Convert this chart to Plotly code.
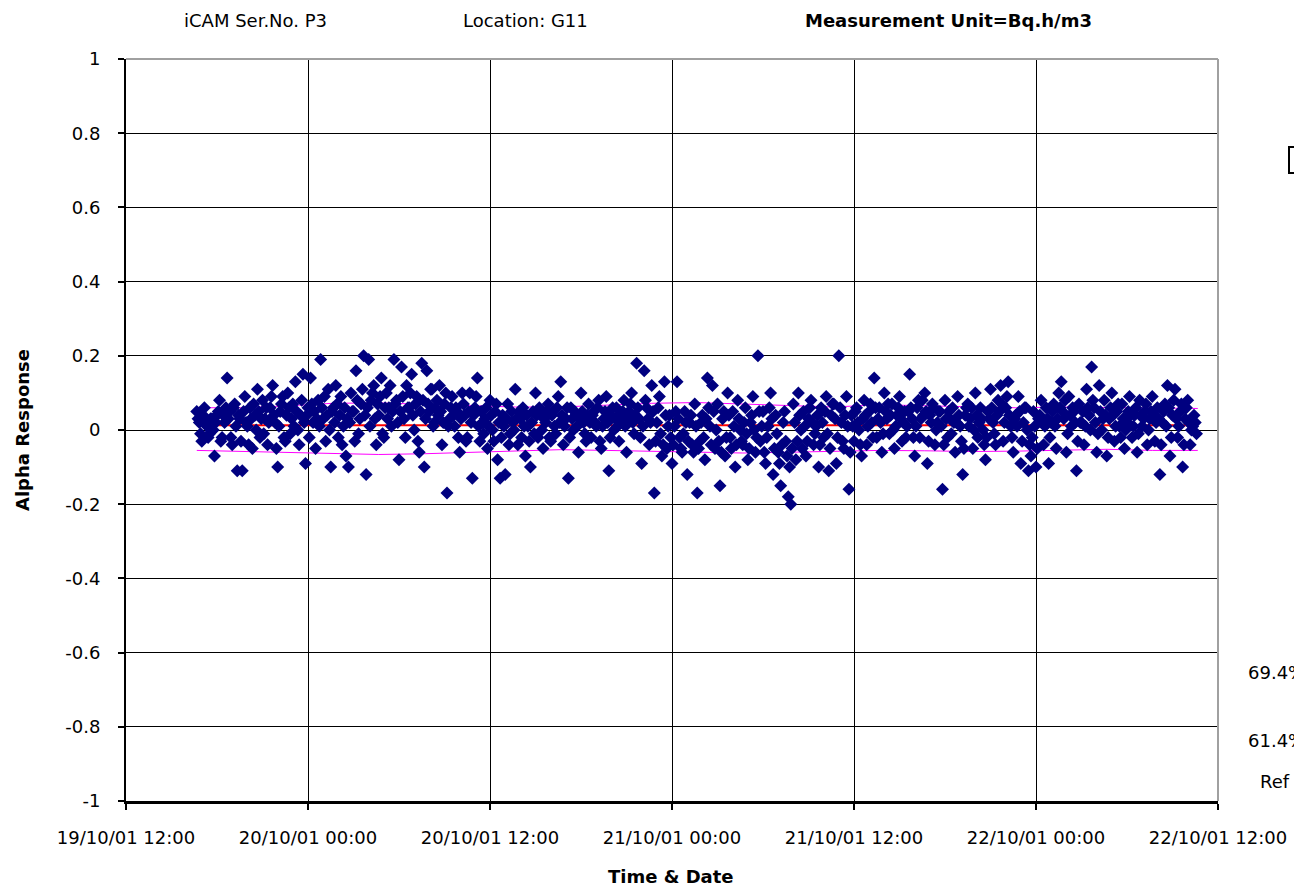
import pandas as pd
import plotly.graph_objects as go

# Alpha response readings, one every 5 minutes from 19/10/01 16:40 (one line per hour)
alpha_response = [
    0.05, 0.03, 0.02, -0.01, -0.03, 0.04, 0.06, 0.02, 0.01, -0.02, -0.01, 0.03,
    0.03, 0.00, -0.07, 0.02, 0.04, 0.05, 0.08, -0.03, -0.02, 0.04, 0.02, 0.06,
    0.14, 0.03, 0.05, -0.02, -0.04, 0.06, 0.07, 0.01, -0.11, 0.04, 0.03, -0.03,
    -0.11, 0.05, 0.09, 0.02, 0.01, -0.04, 0.06, 0.03, -0.05, 0.07, 0.04, 0.00,
    0.11, 0.05, -0.02, 0.03, 0.08, -0.01, 0.03, 0.06, -0.04, 0.02, 0.06, 0.09,
    0.12, 0.04, 0.02, -0.05, -0.10, 0.01, 0.05, 0.07, 0.09, -0.02, -0.03, 0.04,
    0.10, 0.06, -0.01, 0.03, 0.07, 0.01, 0.13, 0.05, 0.00, -0.04, 0.04, 0.08,
    0.15, 0.02, -0.09, 0.04, 0.06, -0.02, 0.14, 0.07, 0.02, 0.05, -0.05, 0.03,
    0.08, 0.01, 0.19, 0.06, 0.03, 0.09, -0.03, 0.04, 0.11, 0.00, -0.10, 0.05,
    0.06, 0.02, 0.12, 0.07, -0.02, 0.04, 0.09, -0.04, 0.01, 0.06, -0.07, 0.03,
    -0.10, 0.02, 0.10, 0.05, 0.05, -0.03, 0.16, 0.08, -0.01, 0.03, 0.07, 0.11,
    0.20, 0.04, -0.12, 0.06, 0.19, 0.01, 0.08, 0.10, 0.12, 0.03, -0.04, 0.07,
    0.04, 0.09, 0.14, -0.01, -0.02, 0.06, 0.10, 0.03, 0.06, 0.12, 0.01, 0.05,
    0.19, 0.07, 0.08, 0.02, -0.08, 0.05, 0.17, 0.09, 0.03, -0.02, 0.12, 0.06,
    0.06, 0.10, 0.15, 0.04, 0.00, 0.07, 0.09, -0.03, -0.06, 0.05, 0.18, 0.08,
    -0.10, 0.03, 0.16, 0.07, 0.05, 0.11, 0.11, 0.01, 0.02, 0.06, 0.08, 0.04,
    0.12, 0.05, -0.04, 0.02, 0.07, 0.10, -0.17, 0.01, 0.03, 0.06, 0.09, 0.04,
    0.01, 0.06, 0.05, -0.02, -0.06, 0.03, 0.10, 0.07, 0.04, -0.03, -0.02, 0.05,
    0.10, 0.02, -0.13, 0.04, 0.06, 0.09, 0.14, 0.01, -0.03, 0.05, 0.02, -0.01,
    0.03, 0.06, -0.05, 0.01, 0.08, 0.04, 0.00, -0.03, 0.05, 0.07, -0.08, 0.02,
    -0.13, -0.02, 0.04, 0.01, -0.12, 0.03, 0.07, -0.04, -0.01, 0.05, 0.02, 0.00,
    0.11, 0.03, -0.04, 0.05, 0.03, -0.02, 0.06, 0.01, -0.07, 0.04, 0.01, -0.03,
    -0.10, 0.02, 0.05, -0.01, 0.10, 0.04, -0.02, 0.06, 0.04, 0.00, -0.05, 0.03,
    0.02, 0.05, 0.07, -0.02, -0.03, 0.04, 0.05, 0.01, -0.01, 0.06, 0.09, 0.02,
    0.13, 0.04, -0.04, 0.01, 0.03, 0.06, -0.13, -0.02, 0.06, 0.03, 0.00, 0.05,
    0.04, 0.01, -0.06, 0.03, 0.10, 0.05, 0.02, -0.01, -0.03, 0.04, 0.07, 0.02,
    -0.02, 0.04, 0.05, 0.02, 0.01, 0.06, 0.08, -0.03, -0.05, 0.01, 0.03, 0.05,
    0.09, 0.02, -0.11, -0.02, 0.04, 0.06, 0.00, 0.03, 0.06, 0.01, -0.03, 0.04,
    0.02, 0.05, 0.08, 0.01, -0.06, 0.03, 0.05, 0.07, 0.10, 0.02, -0.01, 0.04,
    0.18, 0.06, 0.03, -0.02, -0.09, 0.01, 0.16, 0.08, 0.06, 0.03, -0.04, 0.02,
    0.12, 0.05, -0.17, -0.03, 0.02, 0.06, 0.09, -0.01, -0.07, -0.04, 0.13, 0.04,
    -0.05, 0.01, 0.04, -0.02, -0.09, -0.04, 0.01, 0.05, 0.13, 0.03, -0.02, -0.05,
    -0.06, -0.01, 0.05, 0.02, -0.12, -0.03, 0.02, 0.04, -0.04, -0.06, 0.07, 0.01,
    -0.17, -0.05, -0.03, 0.02, 0.04, -0.02, -0.08, 0.03, 0.14, 0.06, 0.01, -0.04,
    0.12, 0.05, -0.05, 0.00, 0.07, -0.03, -0.15, -0.06, 0.03, 0.05, -0.07, -0.02,
    0.10, 0.04, -0.02, -0.05, 0.05, 0.01, -0.10, -0.04, 0.08, 0.03, 0.00, -0.03,
    -0.04, 0.02, 0.06, -0.01, -0.08, -0.05, 0.02, 0.04, 0.09, 0.00, -0.06, -0.02,
    0.20, 0.05, -0.03, 0.01, 0.05, -0.06, -0.09, -0.02, 0.01, 0.06, 0.10, 0.03,
    -0.12, -0.05, 0.04, -0.01, -0.06, -0.09, -0.15, -0.04, 0.02, 0.05, -0.03, -0.07,
    -0.18, -0.10, -0.20, -0.05, 0.07, 0.02, -0.08, -0.03, 0.10, 0.04, 0.00, -0.05,
    0.05, 0.01, -0.07, -0.03, 0.03, 0.06, 0.08, 0.02, -0.04, -0.01, 0.01, 0.04,
    -0.10, -0.04, 0.06, 0.02, -0.02, 0.05, 0.09, -0.01, -0.11, -0.05, 0.04, 0.07,
    0.07, 0.03, -0.09, -0.02, 0.20, 0.06, 0.02, -0.03, -0.05, 0.04, 0.09, 0.01,
    -0.16, -0.06, 0.04, 0.01, -0.03, 0.05, 0.06, 0.02, 0.00, -0.04, -0.07, 0.03,
    0.08, 0.04, -0.04, 0.01, 0.05, 0.07, 0.02, -0.02, 0.14, 0.06, -0.02, 0.03,
    0.06, 0.02, -0.06, -0.01, 0.10, 0.05, 0.03, 0.07, -0.01, 0.04, 0.07, 0.00,
    -0.05, 0.01, 0.04, 0.06, 0.09, 0.03, -0.03, 0.02, 0.05, -0.02, 0.01, 0.05,
    0.15, 0.06, 0.03, -0.02, -0.07, 0.01, 0.06, 0.08, -0.02, 0.03, 0.08, 0.04,
    0.10, 0.05, -0.09, -0.03, 0.04, 0.02, 0.07, 0.06, -0.04, 0.00, 0.02, 0.05,
    0.05, 0.01, -0.16, -0.04, 0.08, 0.03, -0.02, 0.05, 0.03, -0.01, 0.06, 0.02,
    -0.06, 0.02, 0.09, 0.04, 0.01, -0.03, -0.12, -0.05, 0.04, 0.06, 0.07, 0.01,
    0.03, 0.06, -0.05, 0.00, 0.10, 0.04, -0.02, 0.02, 0.06, 0.03, 0.00, -0.04,
    -0.08, -0.02, 0.05, 0.03, 0.11, 0.06, 0.02, -0.01, -0.04, 0.04, 0.08, 0.05,
    0.12, 0.07, -0.03, 0.02, 0.06, 0.09, 0.13, 0.04, 0.01, -0.02, -0.06, 0.03,
    0.04, 0.01, 0.09, 0.05, -0.09, -0.03, 0.02, 0.06, 0.06, 0.00, -0.11, -0.04,
    -0.07, -0.02, 0.05, 0.01, -0.10, -0.05, 0.03, 0.04, 0.08, 0.02, -0.04, 0.01,
    0.06, 0.03, -0.09, -0.02, 0.02, 0.05, 0.07, 0.01, -0.05, 0.03, 0.10, 0.06,
    0.13, 0.05, 0.03, 0.08, -0.06, -0.01, 0.09, 0.04, 0.01, 0.06, 0.05, 0.02,
    -0.11, -0.03, 0.07, 0.02, 0.02, 0.05, -0.04, 0.01, 0.11, 0.06, 0.04, 0.00,
    0.17, 0.08, 0.06, 0.02, -0.06, -0.01, 0.12, 0.05, 0.00, 0.03, 0.08, 0.04,
    -0.07, -0.02, 0.03, 0.06, 0.10, 0.04, -0.03, 0.01, 0.05, 0.07, 0.01, -0.02,
    0.07, 0.03, -0.05, 0.00, 0.02, 0.05, 0.09, 0.04, -0.02, 0.01, 0.04, 0.06,
    -0.06, -0.01, 0.08, 0.04, 0.01, 0.03, 0.05, 0.07, -0.04, 0.00, 0.03, 0.05,
    0.09, 0.04, -0.03, 0.02, 0.06, 0.03, -0.12, -0.04, 0.02, 0.05, 0.07, 0.01,
    0.12, 0.06, -0.07, -0.02, 0.04, 0.08, 0.11, 0.03, -0.02, 0.01, 0.05, 0.07,
    -0.10, -0.04, 0.03, 0.06, 0.08, 0.02, -0.04, 0.00, 0.01, 0.04, 0.02, -0.01,
]
start_time = "2001-10-19 16:40"
sample_step = "5min"

# Mean response level
mean_response = 0.013

# Control band (upper / lower), every 3 hours from the start time
band_upper = [0.060, 0.060, 0.065, 0.072, 0.073, 0.070, 0.065, 0.062, 0.062, 0.068, 0.072, 0.074,
              0.070, 0.066, 0.062, 0.068, 0.066, 0.062, 0.060, 0.062, 0.060, 0.058, 0.058]
band_lower = [-0.055, -0.058, -0.062, -0.065, -0.066, -0.064, -0.060, -0.056, -0.053, -0.055, -0.058, -0.060,
              -0.062, -0.060, -0.058, -0.055, -0.056, -0.058, -0.057, -0.055, -0.052, -0.055, -0.055]
band_step = "3h"

# Axis ticks
x_tick_values = ["2001-10-19 12:00", "2001-10-20 00:00", "2001-10-20 12:00", "2001-10-21 00:00",
                 "2001-10-21 12:00", "2001-10-22 00:00", "2001-10-22 12:00"]
x_tick_labels = ["19/10/01 12:00", "20/10/01 00:00", "20/10/01 12:00", "21/10/01 00:00",
                 "21/10/01 12:00", "22/10/01 00:00", "22/10/01 12:00"]
y_tick_values = [1, 0.8, 0.6, 0.4, 0.2, 0, -0.2, -0.4, -0.6, -0.8, -1]
y_tick_labels = ["1", "0.8", "0.6", "0.4", "0.2", "0", "-0.2", "-0.4", "-0.6", "-0.8", "-1"]

times = pd.date_range(start_time, periods=len(alpha_response), freq=sample_step)
band_times = pd.date_range(start_time, periods=len(band_upper), freq=band_step)

W, H = 1294, 889
L, R, T, B = 126, 1218, 59, 801


def px(x):
    return (x - L) / (R - L)


def py(y):
    return (B - y) / (B - T)


FONT = "DejaVu Sans"

fig = go.Figure()
fig.add_trace(go.Scatter(
    x=band_times, y=band_upper, mode="lines",
    line=dict(color="#ff00ff", width=1), hoverinfo="skip"))
fig.add_trace(go.Scatter(
    x=band_times, y=band_lower, mode="lines",
    line=dict(color="#ff00ff", width=1), hoverinfo="skip"))
fig.add_trace(go.Scatter(
    x=[times[0], times[-1]], y=[mean_response, mean_response], mode="lines",
    line=dict(color="#ff0000", width=2), hoverinfo="skip"))
fig.add_trace(go.Scatter(
    x=times, y=alpha_response, mode="markers",
    marker=dict(symbol="diamond", size=10, color="#000080", line=dict(width=0))))

fig.update_layout(
    width=W, height=H,
    margin=dict(l=L, r=W - R, t=T, b=H - B, pad=0, autoexpand=False),
    paper_bgcolor="white", plot_bgcolor="white",
    showlegend=False,
    font=dict(family=FONT, size=18, color="black"),
)
fig.update_xaxes(
    type="date", automargin=False,
    range=[x_tick_values[0], x_tick_values[-1]],
    tickmode="array", tickvals=x_tick_values, ticktext=x_tick_labels,
    showgrid=True, gridcolor="black", gridwidth=1,
    showline=True, linecolor="black", linewidth=3,
    ticks="outside", ticklen=6, tickcolor="black", tickwidth=2,
    ticklabelstandoff=12,
    tickfont=dict(family=FONT, size=18),
    zeroline=False,
)
fig.update_yaxes(
    range=[-1, 1], automargin=False,
    tickmode="array", tickvals=y_tick_values, ticktext=y_tick_labels,
    showgrid=True, gridcolor="black", gridwidth=1,
    showline=True, linecolor="black", linewidth=2,
    ticks="outside", ticklen=6, tickcolor="black", tickwidth=2,
    ticklabelstandoff=14,
    tickfont=dict(family=FONT, size=18),
    zeroline=True, zerolinecolor="black", zerolinewidth=1,
)

# Gray frame on the top and right edges of the plot area
fig.add_shape(type="line", xref="paper", yref="paper", x0=0, x1=1, y0=1, y1=1,
              line=dict(color="#a0a0a0", width=2))
fig.add_shape(type="line", xref="paper", yref="paper", x0=1, x1=1, y0=0, y1=1,
              line=dict(color="#a0a0a0", width=2))
# Legend box peeking in at the right edge
fig.add_shape(type="rect", xref="paper", yref="paper",
              x0=px(1289), x1=px(1300), y0=py(173), y1=py(147),
              line=dict(color="black", width=2))

annotations = [
    dict(text="iCAM Ser.No. P3", x=px(255), y=py(20), xanchor="center", yanchor="middle",
         font=dict(family=FONT, size=18)),
    dict(text="Location: G11", x=px(525), y=py(20), xanchor="center", yanchor="middle",
         font=dict(family=FONT, size=18)),
    dict(text="<b>Measurement Unit=Bq.h/m3</b>", x=px(948), y=py(20), xanchor="center", yanchor="middle",
         font=dict(family=FONT, size=18)),
    dict(text="<b>Alpha Response</b>", x=px(22), y=py(430), xanchor="center", yanchor="middle",
         textangle=-90, font=dict(family=FONT, size=18)),
    dict(text="<b>Time & Date</b>", x=px(671), y=py(876), xanchor="center", yanchor="middle",
         font=dict(family=FONT, size=18)),
    dict(text="69.4%", x=px(1246), y=py(672), xanchor="left", yanchor="middle",
         font=dict(family=FONT, size=18)),
    dict(text="61.4%", x=px(1246), y=py(740), xanchor="left", yanchor="middle",
         font=dict(family=FONT, size=18)),
    dict(text="Ref", x=px(1258), y=py(781), xanchor="left", yanchor="middle",
         font=dict(family=FONT, size=18)),
]
for a in annotations:
    fig.add_annotation(xref="paper", yref="paper", showarrow=False, **a)

fig.write_html("out.html")
